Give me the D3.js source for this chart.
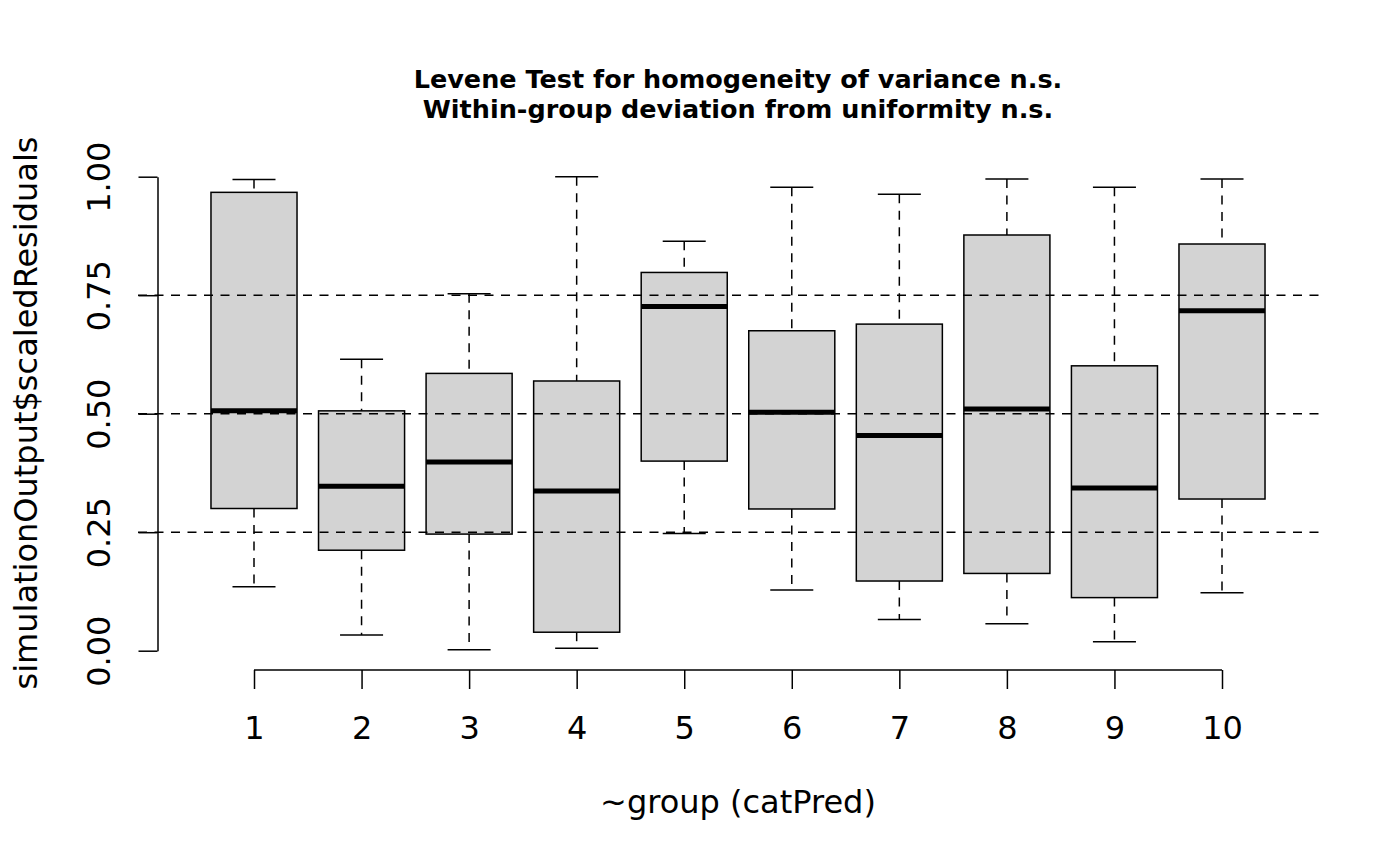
<!DOCTYPE html>
<html>
<head>
<meta charset="utf-8">
<script src="https://cdn.jsdelivr.net/npm/d3@7"></script>
<style>
  body { margin: 0; background: #fff; }
  text { font-family: "DejaVu Sans", sans-serif; fill: #000; }
</style>
</head>
<body>
<div id="myspace"></div>
<script>
// groups of catPred, five-number summaries
var groups   = ['1','2','3','4','5','6','7','8','9','10'];
var whiskLow = [0.135, 0.033, 0.002, 0.005, 0.247, 0.128, 0.066, 0.057, 0.019, 0.122];
var q1       = [0.300, 0.212, 0.246, 0.039, 0.400, 0.299, 0.147, 0.163, 0.112, 0.320];
var medians  = [0.506, 0.347, 0.398, 0.337, 0.726, 0.503, 0.454, 0.510, 0.343, 0.717];
var q3       = [0.967, 0.506, 0.585, 0.569, 0.798, 0.675, 0.689, 0.877, 0.601, 0.858];
var whiskHi  = [0.994, 0.615, 0.753, 1.000, 0.864, 0.978, 0.963, 0.995, 0.978, 0.995];
var yTicks   = [0, 0.25, 0.5, 0.75, 1];
var refLines = [0.25, 0.5, 0.75];

var W = 1400, H = 866;
var svg = d3.select('#myspace').append('svg')
	.attr('width', W)
	.attr('height', H);

// x: group position (1..10), R style usr 0.1..10.9
var xScale = d3.scaleLinear()
	.domain([0.1, 10.9])
	.range([157.2, 1318.8]);
var yScale = d3.scaleLinear()
	.domain([0, 1])
	.range([650.7, 176.7]);

var boxW = xScale(0.8) - xScale(0);
var capW = xScale(0.4) - xScale(0);

var data = groups.map(function(g, i){
	return {g: g, pos: i + 1, lo: whiskLow[i], q1: q1[i], med: medians[i], q3: q3[i], hi: whiskHi[i]};
});

var boxes = svg.append('g').selectAll('g')
	.data(data)
	.enter()
	.append('g');

// whiskers (dashed)
boxes.append('line')
	.attr('x1', function(d){ return xScale(d.pos); })
	.attr('x2', function(d){ return xScale(d.pos); })
	.attr('y1', function(d){ return yScale(d.hi); })
	.attr('y2', function(d){ return yScale(d.q3); })
	.attr('stroke', '#000').attr('stroke-width', 1.5)
	.attr('stroke-dasharray', '9,7.5');
boxes.append('line')
	.attr('x1', function(d){ return xScale(d.pos); })
	.attr('x2', function(d){ return xScale(d.pos); })
	.attr('y1', function(d){ return yScale(d.q1); })
	.attr('y2', function(d){ return yScale(d.lo); })
	.attr('stroke', '#000').attr('stroke-width', 1.5)
	.attr('stroke-dasharray', '9,7.5');

// caps
['hi', 'lo'].forEach(function(k){
	boxes.append('line')
		.attr('x1', function(d){ return xScale(d.pos) - capW / 2; })
		.attr('x2', function(d){ return xScale(d.pos) + capW / 2; })
		.attr('y1', function(d){ return yScale(d[k]); })
		.attr('y2', function(d){ return yScale(d[k]); })
		.attr('stroke', '#000').attr('stroke-width', 1.5);
});

// box
boxes.append('rect')
	.attr('x', function(d){ return xScale(d.pos) - boxW / 2; })
	.attr('width', boxW)
	.attr('y', function(d){ return yScale(d.q3); })
	.attr('height', function(d){ return yScale(d.q1) - yScale(d.q3); })
	.attr('fill', '#d3d3d3')
	.attr('stroke', '#000').attr('stroke-width', 1.5);

// median
boxes.append('line')
	.attr('x1', function(d){ return xScale(d.pos) - boxW / 2; })
	.attr('x2', function(d){ return xScale(d.pos) + boxW / 2; })
	.attr('y1', function(d){ return yScale(d.med); })
	.attr('y2', function(d){ return yScale(d.med); })
	.attr('stroke', '#000').attr('stroke-width', 5);

// reference lines, drawn over the boxes
svg.append('g').selectAll('line')
	.data(refLines)
	.enter()
	.append('line')
	.attr('x1', 138)
	.attr('x2', xScale(10.9))
	.attr('y1', function(d){ return yScale(d); })
	.attr('y2', function(d){ return yScale(d); })
	.attr('stroke', '#000').attr('stroke-width', 1.5)
	.attr('stroke-dasharray', '9,7.5');

// y axis
var yAxis = d3.axisLeft(yScale)
	.tickValues(yTicks)
	.tickSize(19)
	.tickSizeOuter(0)
	.tickFormat(d3.format('.2f'));
var gy = svg.append('g')
	.attr('transform', 'translate(157.5,0)')
	.call(yAxis);
gy.select('.domain').attr('stroke-width', 1.5);
gy.selectAll('.tick line').attr('stroke-width', 1.5);
gy.selectAll('.tick text')
	.attr('x', null).attr('dy', null)
	.attr('transform', 'translate(-47.5,0) rotate(-90)')
	.attr('text-anchor', 'middle')
	.style('font-size', '32px')
	.style('font-family', '"DejaVu Sans", sans-serif');

// x axis
var xAxis = d3.axisBottom(xScale)
	.tickValues(data.map(function(d){ return d.pos; }))
	.tickSize(19)
	.tickSizeOuter(0)
	.tickFormat(function(d){ return groups[d - 1]; });
var gx = svg.append('g')
	.attr('transform', 'translate(0,670)')
	.call(xAxis);
gx.select('.domain')
	.attr('d', 'M' + xScale(1) + ',0H' + xScale(10))
	.attr('stroke-width', 1.5);
gx.selectAll('.tick line').attr('stroke-width', 1.5);
gx.selectAll('.tick text')
	.attr('y', 69).attr('dy', null)
	.style('font-size', '32px')
	.style('font-family', '"DejaVu Sans", sans-serif');

// titles
svg.append('text')
	.attr('x', 738).attr('y', 88)
	.attr('text-anchor', 'middle')
	.style('font-size', '25.5px').style('font-weight', 'bold')
	.text('Levene Test for homogeneity of variance n.s.');
svg.append('text')
	.attr('x', 738).attr('y', 118)
	.attr('text-anchor', 'middle')
	.style('font-size', '25.5px').style('font-weight', 'bold')
	.text('Within-group deviation from uniformity n.s.');

svg.append('text')
	.attr('x', 738).attr('y', 813)
	.attr('text-anchor', 'middle')
	.style('font-size', '32px')
	.text('~group (catPred)');

svg.append('text')
	.attr('transform', 'translate(37,413) rotate(-90)')
	.attr('text-anchor', 'middle')
	.style('font-size', '32px')
	.text('simulationOutput$scaledResiduals');
</script>
</body>
</html>
